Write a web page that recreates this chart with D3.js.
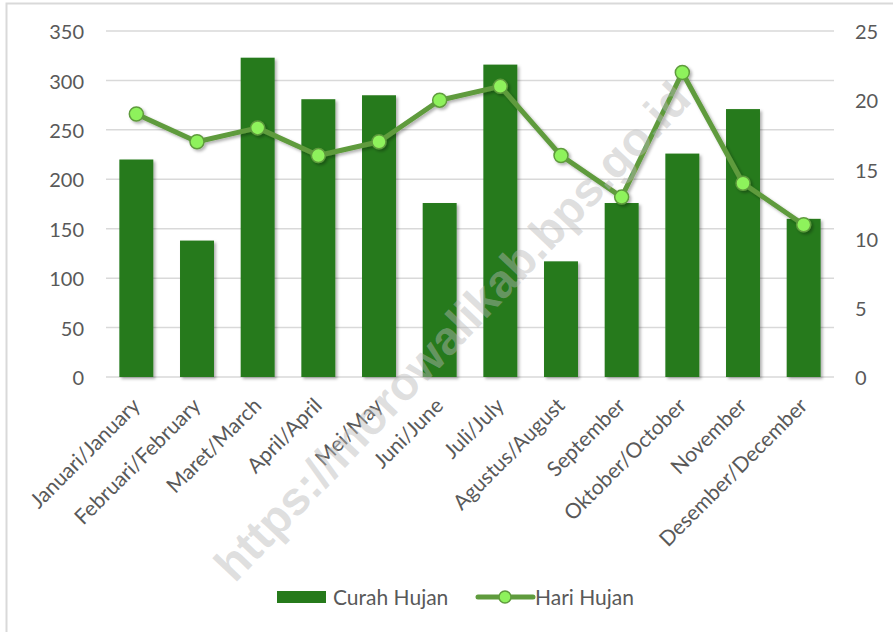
<!DOCTYPE html>
<html><head><meta charset="utf-8">
<script src="https://cdn.jsdelivr.net/npm/d3@7"></script>
<style>body{margin:0;background:#fff;} svg{display:block;}</style>
</head><body>
<svg id="c" width="893" height="632"></svg>
<script>
const months = ["Januari/January","Februari/February","Maret/March","April/April","Mei/May","Juni/June","Juli/July","Agustus/August","September","Oktober/October","November","Desember/December"];
const curahHujan = [220,138,323,281,285,176,316,117,176,226,271,160];
const hariHujan = [19,17,18,16,17,20,21,16,13,22,14,11];
const leftTicks = [0,50,100,150,200,250,300,350];
const rightTicks = [0,5,10,15,20,25];

const svg = d3.select("#c");
const W = 893, H = 632;
const font = "Lato, Carlito, Calibri, sans-serif";
const plot = {l:106, r:834, t:31, b:377};

const defs = svg.append("defs");
const f = defs.append("filter").attr("id","sh").attr("x","-20%").attr("y","-20%").attr("width","150%").attr("height","150%");
f.append("feDropShadow").attr("dx",2).attr("dy",2).attr("stdDeviation",1.8).attr("flood-color","#000").attr("flood-opacity",0.3);

svg.append("rect").attr("width",W).attr("height",H).attr("fill","#fff");
svg.append("rect").attr("x",6.5).attr("y",3.5).attr("width",W+10).attr("height",H+10)
  .attr("fill","none").attr("stroke","#d9d9d9").attr("stroke-width",2);

const x = d3.scaleBand().domain(months).range([plot.l, plot.r]).paddingInner(0.44).paddingOuter(0.22);
const yL = d3.scaleLinear().domain([0,350]).range([plot.b, plot.t]);
const yR = d3.scaleLinear().domain([0,25]).range([plot.b, plot.t]);

// gridlines
svg.append("g").selectAll("line").data(leftTicks).join("line")
  .attr("x1",plot.l).attr("x2",plot.r)
  .attr("y1",d=>yL(d)).attr("y2",d=>yL(d))
  .attr("stroke","#d9d9d9").attr("stroke-width",1.5);

// left axis
const axL = d3.axisLeft(yL).tickValues(leftTicks).tickSize(0).tickPadding(0);
const gL = svg.append("g").attr("transform",`translate(84,0)`).call(axL);
gL.select(".domain").remove();
gL.selectAll("text").attr("font-family",font).attr("font-size",20).attr("fill","#595959").attr("dy","0.38em");

// right axis
const axR = d3.axisRight(yR).tickValues(rightTicks).tickSize(0).tickPadding(0);
const gR = svg.append("g").attr("transform",`translate(855,0)`).call(axR);
gR.select(".domain").remove();
gR.selectAll("text").attr("font-family",font).attr("font-size",20).attr("fill","#595959").attr("dy","0.38em");

// bars
svg.append("g").attr("filter","url(#sh)").selectAll("rect").data(curahHujan).join("rect")
  .attr("x",(d,i)=>x(months[i])).attr("width",x.bandwidth())
  .attr("y",d=>yL(d)).attr("height",d=>plot.b-yL(d))
  .attr("fill","#267a1b");

// x axis labels
const axB = d3.axisBottom(x).tickSize(0).tickPadding(0);
const gB = svg.append("g").attr("transform",`translate(0,${plot.b})`).call(axB);
gB.select(".domain").remove();
gB.selectAll("text").attr("font-family",font).attr("font-size",21).attr("fill","#595959")
  .attr("text-anchor","end").attr("dy",0).attr("y",0)
  .attr("transform","translate(5,30) rotate(-45)");

// line
const cx = (i)=>x(months[i])+x.bandwidth()/2;
const line = d3.line().x((d,i)=>cx(i)).y(d=>yR(d));
const gLine = svg.append("g").attr("filter","url(#sh)");
gLine.append("path").datum(hariHujan).attr("d",line).attr("fill","none")
  .attr("stroke","#5f9b3d").attr("stroke-width",5).attr("stroke-linejoin","round");
gLine.selectAll("circle").data(hariHujan).join("circle")
  .attr("cx",(d,i)=>cx(i)).attr("cy",d=>yR(d)).attr("r",7)
  .attr("fill","#8ef25c").attr("stroke","#5f9b3d").attr("stroke-width",1.5);

// watermark
svg.append("text").attr("transform","translate(455,334) rotate(-46.5)")
  .attr("text-anchor","middle").attr("dominant-baseline","middle")
  .attr("font-family","Liberation Sans, Arial, sans-serif").attr("font-weight","bold")
  .attr("font-size",47).attr("fill","#b8b8b8").attr("fill-opacity",0.45)
  .text("https://morowalikab.bps.go.id");

// legend
const lg = svg.append("g");
lg.append("rect").attr("x",277).attr("y",591).attr("width",49).attr("height",12).attr("fill","#267a1b");
lg.append("text").attr("x",333).attr("y",597).attr("dy","0.36em").attr("font-family",font).attr("font-size",21).attr("fill","#595959").text("Curah Hujan");
lg.append("line").attr("x1",478).attr("x2",533).attr("y1",597).attr("y2",597).attr("stroke","#5f9b3d").attr("stroke-width",5).attr("stroke-linecap","round");
lg.append("circle").attr("cx",505).attr("cy",597).attr("r",6).attr("fill","#8ef25c").attr("stroke","#5f9b3d").attr("stroke-width",1.5);
lg.append("text").attr("x",535).attr("y",597).attr("dy","0.36em").attr("font-family",font).attr("font-size",21).attr("fill","#595959").text("Hari Hujan");
</script>
</body></html>
